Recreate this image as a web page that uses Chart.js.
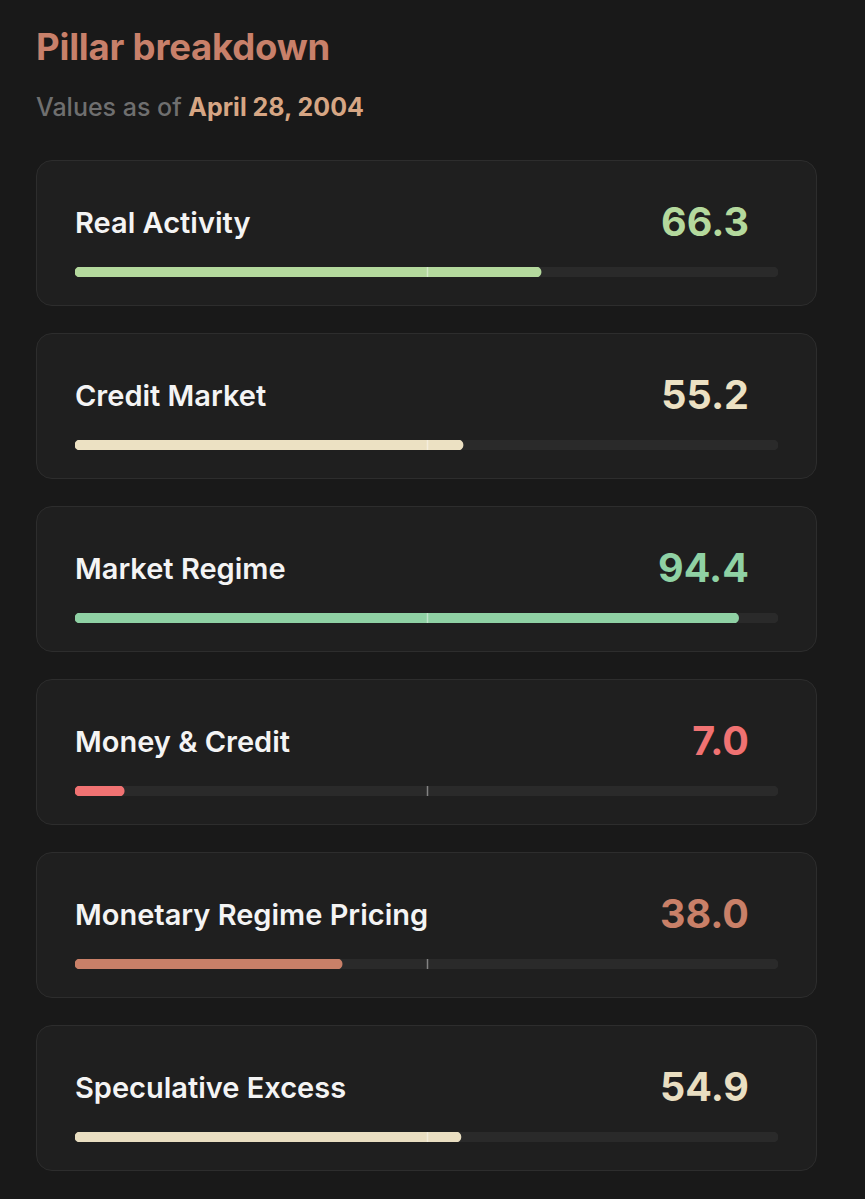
<!DOCTYPE html>
<html>
<head>
<meta charset="utf-8">
<script src="https://cdn.jsdelivr.net/npm/chart.js@4"></script>
<style>
  html, body { margin: 0; padding: 0; background: #191919; }
  body { width: 865px; height: 1199px; position: relative; font-family: Inter, "Noto Sans", sans-serif; overflow: hidden; }
  .title { position: absolute; left: 36px; top: 29px; font-size: 36.5px; font-weight: 700; color: #c8806a; line-height: 1; letter-spacing: -0.2px; }
  .sub { position: absolute; left: 36px; top: 95px; font-size: 25px; font-weight: 500; color: #6f6f6f; line-height: 1; }
  .sub b { color: #d6a684; font-weight: 700; }
  .card { position: absolute; left: 36px; width: 779px; height: 144px; background: #1f1f1f; border: 1.5px solid #2d2d2d; border-radius: 16px; }
  .label { position: absolute; left: 38px; top: 47px; font-size: 29px; font-weight: 600; color: #f4f4f4; line-height: 1; }
  .value { position: absolute; right: 67px; top: 42px; font-size: 39.5px; font-weight: 700; line-height: 1; }
  .bar { position: absolute; left: 38px; top: 106px; width: 703px; height: 10px; }
</style>
</head>
<body>
<div class="title">Pillar breakdown</div>
<div class="sub">Values as of <b>April 28, 2004</b></div>
<div id="cards"></div>
<script>
// pillar data
const pillars = ["Real Activity", "Credit Market", "Market Regime", "Money & Credit", "Monetary Regime Pricing", "Speculative Excess"];
const scores = [66.3, 55.2, 94.4, 7.0, 38.0, 54.9];
const colors = ["#b4d99d", "#ece1c3", "#8fd1a4", "#f07272", "#c98068", "#e9dec1"];
const scaleMax = 100;
const midline = 50;

// ---------------- midline tick plugin ----------------
const midTick = {
    id: "midTick",
    afterDatasetsDraw(chart) {
        const x = Math.round(chart.scales.x.getPixelForValue(midline)) + 0.5;
        const ctx = chart.ctx;
        ctx.save();
        ctx.strokeStyle = "rgba(255,255,255,0.42)";
        ctx.lineWidth = 1.5;
        ctx.beginPath();
        ctx.moveTo(x, chart.chartArea.top);
        ctx.lineTo(x, chart.chartArea.bottom);
        ctx.stroke();
        ctx.restore();
    }
};

const wrap = document.getElementById("cards");
pillars.forEach((name, i) => {
    const card = document.createElement("div");
    card.className = "card";
    card.style.top = (160 + 173 * i) + "px";
    card.innerHTML =
        '<div class="label">' + name.replace("&", "&amp;") + '</div>' +
        '<div class="value" style="color:' + colors[i] + '">' + scores[i].toFixed(1) + '</div>' +
        '<div class="bar"><canvas></canvas></div>';
    wrap.appendChild(card);

    const canvas = card.querySelector("canvas");
    new Chart(canvas, {
        type: "bar",
        data: {
            labels: [name],
            datasets: [
                {
                    data: [scores[i]],
                    backgroundColor: colors[i],
                    borderRadius: 5,
                    borderSkipped: false,
                    order: 0,
                },
                {
                    data: [scaleMax],
                    backgroundColor: "#2a2a2a",
                    borderRadius: 5,
                    borderSkipped: false,
                    order: 1,
                }
            ]
        },
        options: {
            indexAxis: "y",
            responsive: true,
            maintainAspectRatio: false,
            animation: false,
            events: [],
            layout: { padding: 0 },
            datasets: { bar: { grouped: false, barPercentage: 1, categoryPercentage: 1 } },
            plugins: { legend: { display: false }, tooltip: { enabled: false } },
            scales: {
                x: { display: false, min: 0, max: scaleMax },
                y: { display: false }
            }
        },
        plugins: [midTick]
    });
});
</script>
</body>
</html>
